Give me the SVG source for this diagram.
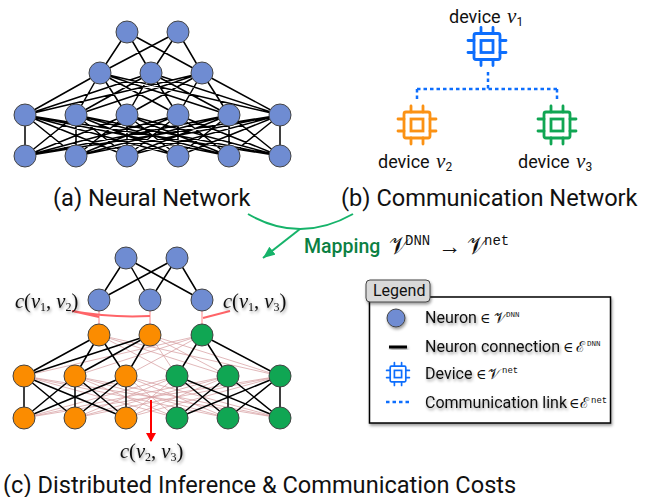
<svg xmlns="http://www.w3.org/2000/svg" width="654" height="497" viewBox="0 0 654 497">
<style>
text{font-family:Roboto,"Liberation Sans",sans-serif;fill:#111}
.cap{font-size:23.600px}
.dev{font-size:18px}
.m{font-family:"Liberation Serif","DejaVu Serif",serif}
.i{font-family:"Liberation Serif","DejaVu Serif",serif;font-style:italic}
.s{font-family:"Liberation Serif",serif}
.tt{font-family:"Liberation Mono",monospace}
.lg{font-size:16px}
.sh{filter:url(#shadow)}
.n{stroke:#444;stroke-width:1}
.blue{fill:#6f8cd2}.orange{fill:#fb8c00}.green{fill:#10a653}
.k{fill:none;stroke:#000;stroke-width:1.500}
.p{fill:none;stroke:#d49a9c;stroke-width:.7}
.r{fill:none;stroke:#ff6468;stroke-width:2}
.chip{fill:none;stroke:currentColor;stroke-width:2.800;stroke-linecap:round}
.dot{fill:none;stroke:#0d6efd;stroke-width:2.500;stroke-dasharray:3.500 3}
</style>
<defs>
<filter id="shadow" x="-20%" y="-30%" width="140%" height="170%"><feDropShadow dx="1" dy="2" stdDeviation="1.500" flood-color="#000" flood-opacity=".4"/></filter>
<marker id="ag" markerUnits="userSpaceOnUse" markerWidth="14" markerHeight="12" refX="12" refY="5" orient="auto"><path d="M0 0L12 5L0 10z" fill="#16b36a"/></marker>
<marker id="ar" markerUnits="userSpaceOnUse" markerWidth="12" markerHeight="10" refX="8" refY="5" orient="auto"><path d="M0 0L9 5L0 10z" fill="#f00"/></marker>
<g id="chip" class="chip"><rect x="-13" y="-13" width="26" height="26" rx="2"/><rect x="-6" y="-6" width="12" height="12"/><path d="M-6-13V-19M6-13V-19M-6 13V19M6 13V19M-13-6H-19M-13 6H-19M13-6H19M13 6H19"/></g>
</defs>

<g id="connectors">
<path id="a-edges" class="k" d="M127 32L100 73M127 32L151 73M127 32L202 73M178 32L100 73M178 32L151 73M178 32L202 73
M100 73L25 115M100 73L76 115M100 73L127 115M100 73L178 115M100 73L229 115M100 73L280 115
M151 73L25 115M151 73L76 115M151 73L127 115M151 73L178 115M151 73L229 115M151 73L280 115
M202 73L25 115M202 73L76 115M202 73L127 115M202 73L178 115M202 73L229 115M202 73L280 115
M25 115L25 156M25 115L76 156M25 115L127 156M25 115L178 156M25 115L229 156M25 115L280 156
M76 115L25 156M76 115L76 156M76 115L127 156M76 115L178 156M76 115L229 156M76 115L280 156
M127 115L25 156M127 115L76 156M127 115L127 156M127 115L178 156M127 115L229 156M127 115L280 156
M178 115L25 156M178 115L76 156M178 115L127 156M178 115L178 156M178 115L229 156M178 115L280 156
M229 115L25 156M229 115L76 156M229 115L127 156M229 115L178 156M229 115L229 156M229 115L280 156
M280 115L25 156M280 115L76 156M280 115L127 156M280 115L178 156M280 115L229 156M280 115L280 156"/>
<path id="b-links" class="dot" d="M488 72V89M417 89H557M417 89V102M557 89V102"/>
<path id="map-curve" d="M248 214Q300 244 353 214" fill="none" stroke="#16b36a" stroke-width="2"/>
<path id="map-arrow" d="M300 229L263 258" fill="none" stroke="#16b36a" stroke-width="2" marker-end="url(#ag)"/>
<path id="c-cut" class="p" d="M99 335L177 376M99 335L228 376M99 335L280 376M150 335L177 376M150 335L228 376M150 335L280 376M202 335L24 376M202 335L75 376M202 335L126 376
M24 376L177 418M24 376L228 418M24 376L280 418M75 376L177 418M75 376L228 418M75 376L280 418M126 376L177 418M126 376L228 418M126 376L280 418
M177 376L24 418M177 376L75 418M177 376L126 418M228 376L24 418M228 376L75 418M228 376L126 418M280 376L24 418M280 376L75 418M280 376L126 418"/>
<path id="c-edges" class="k" d="M126 258L99 300M126 258L150 300M126 258L202 300M177 258L99 300M177 258L150 300M177 258L202 300
M99 335L24 376M99 335L75 376M99 335L126 376M150 335L24 376M150 335L75 376M150 335L126 376M202 335L177 376M202 335L228 376M202 335L280 376
M24 376L24 418M24 376L75 418M24 376L126 418M75 376L24 418M75 376L75 418M75 376L126 418M126 376L24 418M126 376L75 418M126 376L126 418
M177 376L177 418M177 376L228 418M177 376L280 418M228 376L177 418M228 376L228 418M228 376L280 418M280 376L177 418M280 376L228 418M280 376L280 418"/>
<path id="c-links" d="M99 300V335M150 300V335M202 300V335" fill="none" stroke="#ff9a9c" stroke-width="1.200"/>
<path id="c-labels-12" class="r" d="M72 311L99 317M72 311Q110 318 150 316"/>
<path id="c-labels-13" class="r" d="M230 311L203 318"/>
<path id="c-arrow" d="M151 400V441" fill="none" stroke="#f00" stroke-width="2" marker-end="url(#ar)"/>
</g>

<g id="a-nodes" class="n blue">
<circle cx="127" cy="32" r="11"/><circle cx="178" cy="32" r="11"/>
<circle cx="100" cy="73" r="11"/><circle cx="151" cy="73" r="11"/><circle cx="202" cy="73" r="11"/>
<circle cx="25" cy="115" r="11"/><circle cx="76" cy="115" r="11"/><circle cx="127" cy="115" r="11"/><circle cx="178" cy="115" r="11"/><circle cx="229" cy="115" r="11"/><circle cx="280" cy="115" r="11"/>
<circle cx="25" cy="156" r="11"/><circle cx="76" cy="156" r="11"/><circle cx="127" cy="156" r="11"/><circle cx="178" cy="156" r="11"/><circle cx="229" cy="156" r="11"/><circle cx="280" cy="156" r="11"/>
</g>
<text class="cap" x="53" y="206">(a) Neural Network</text>

<g id="device-1"><use href="#chip" x="487" y="46.500" color="#0d6efd"/><text class="dev" x="449" y="23">device <tspan class="i" font-size="21" dx="2">v</tspan><tspan font-size="12" dy="3">1</tspan></text></g>
<g id="device-2"><use href="#chip" x="417" y="125" color="#fb9214"/><text class="dev" x="378" y="168">device <tspan class="i" font-size="21" dx="2">v</tspan><tspan font-size="12" dy="3">2</tspan></text></g>
<g id="device-3"><use href="#chip" x="557" y="125" color="#10a653"/><text class="dev" x="518" y="168">device <tspan class="i" font-size="21" dx="2">v</tspan><tspan font-size="12" dy="3">3</tspan></text></g>
<text class="cap" x="341" y="206">(b) Communication Network</text>

<g id="mapping">
<text x="304" y="253" font-size="19.500" font-weight="500" style="fill:#0b8043">Mapping</text>
<text class="s" x="389" y="254" font-size="24">𝒱</text><text class="tt" x="405" y="245" font-size="14">DNN</text>
<text x="438" y="254" font-size="23" style="font-family:'Liberation Sans',sans-serif">→</text>
<text class="s" x="467" y="254" font-size="24">𝒱</text><text class="tt" x="484" y="245" font-size="14">net</text>
</g>

<g id="c-nodes-blue" class="n blue"><circle cx="126" cy="258" r="11"/><circle cx="177" cy="258" r="11"/><circle cx="99" cy="300" r="11"/><circle cx="150" cy="300" r="11"/><circle cx="202" cy="300" r="11"/></g>
<g id="c-nodes-orange" class="n orange"><circle cx="99" cy="335" r="11"/><circle cx="150" cy="335" r="11"/><circle cx="24" cy="376" r="11"/><circle cx="75" cy="376" r="11"/><circle cx="126" cy="376" r="11"/><circle cx="24" cy="418" r="11"/><circle cx="75" cy="418" r="11"/><circle cx="126" cy="418" r="11"/></g>
<g id="c-nodes-green" class="n green"><circle cx="202" cy="335" r="11"/><circle cx="177" cy="376" r="11"/><circle cx="228" cy="376" r="11"/><circle cx="280" cy="376" r="11"/><circle cx="177" cy="418" r="11"/><circle cx="228" cy="418" r="11"/><circle cx="280" cy="418" r="11"/></g>

<text class="m sh" x="15" y="308" font-size="20.500"><tspan class="i">c</tspan>(<tspan class="i">v</tspan><tspan font-size="12" dy="3">1</tspan><tspan dy="-3">, </tspan><tspan class="i">v</tspan><tspan font-size="12" dy="3">2</tspan><tspan dy="-3">)</tspan></text>
<text class="m sh" x="223" y="308" font-size="20.500"><tspan class="i">c</tspan>(<tspan class="i">v</tspan><tspan font-size="12" dy="3">1</tspan><tspan dy="-3">, </tspan><tspan class="i">v</tspan><tspan font-size="12" dy="3">3</tspan><tspan dy="-3">)</tspan></text>
<text class="m sh" x="120" y="458" font-size="20.500"><tspan class="i">c</tspan>(<tspan class="i">v</tspan><tspan font-size="12" dy="3">2</tspan><tspan dy="-3">, </tspan><tspan class="i">v</tspan><tspan font-size="12" dy="3">3</tspan><tspan dy="-3">)</tspan></text>
<text class="cap" x="3" y="493">(c) Distributed Inference &amp; Communication Costs</text>

<g id="legend">
<rect x="369.500" y="297" width="241" height="126" fill="#fff" stroke="#000" stroke-width="1.500" class="sh"/>
<rect x="366" y="280" width="64" height="22" rx="4" fill="#d9d9d9" stroke="#444" class="sh"/>
<text x="373" y="296" font-size="16">Legend</text>
<circle class="n blue sh" cx="396" cy="318" r="9"/>
<text class="lg sh" x="425" y="323">Neuron</text><text class="m" x="480" y="323" font-size="14">∈</text><text class="s" x="494" y="323" font-size="15">𝒱</text><text class="tt" x="506" y="317" font-size="7.500">DNN</text>
<rect x="389" y="345.500" width="18" height="3" fill="#000" class="sh"/>
<text class="lg sh" x="425" y="352">Neuron connection</text><text class="m" x="563" y="352" font-size="14">∈</text><text class="s" x="576" y="352" font-size="15">ℰ</text><text class="tt" x="587" y="346" font-size="7.500">DNN</text>
<use href="#chip" transform="translate(398 374) scale(.6)" color="#0d6efd"/>
<text class="lg sh" x="425" y="379">Device</text><text class="m" x="476" y="379" font-size="14">∈</text><text class="s" x="488" y="379" font-size="15">𝒱</text><text class="tt" x="502" y="373" font-size="9">net</text>
<path class="dot" d="M386 402H411"/>
<text class="lg sh" x="425" y="408">Communication link</text><text class="m" x="569" y="408" font-size="14">∈</text><text class="s" x="580" y="408" font-size="15">ℰ</text><text class="tt" x="591" y="403" font-size="9">net</text>
</g>
</svg>
